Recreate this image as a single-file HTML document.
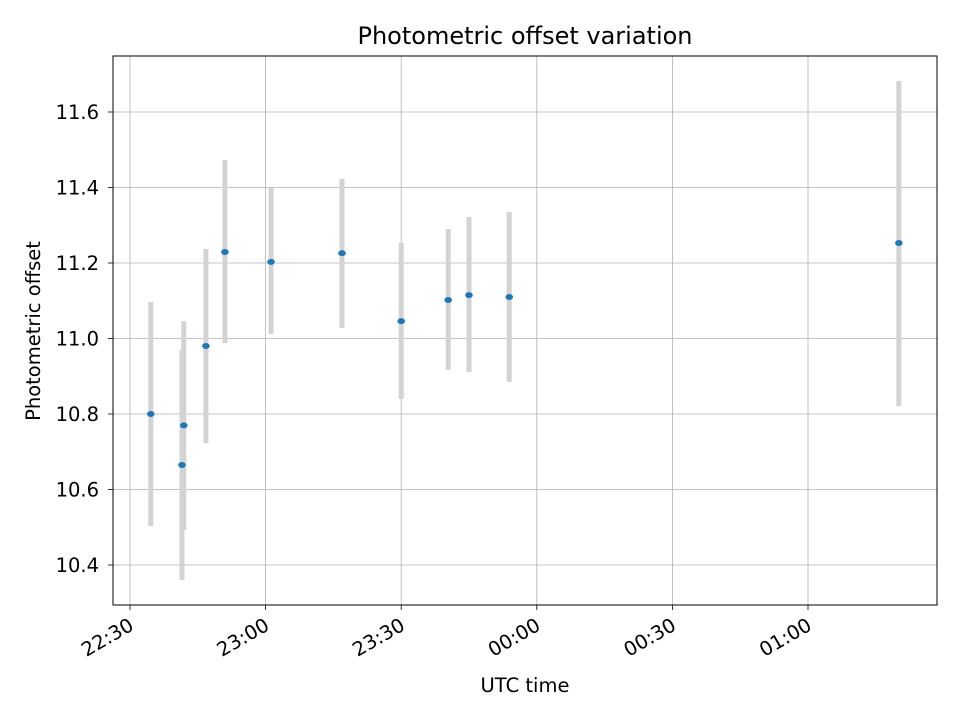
<!DOCTYPE html>
<html><head><meta charset="utf-8"><style>
body{margin:0;background:#fff;font-family:"Liberation Sans","DejaVu Sans",sans-serif;}
svg text{font-family:"DejaVu Sans","Liberation Sans",sans-serif;}
</style></head><body>
<svg id="chart" width="960" height="720" xmlns="http://www.w3.org/2000/svg"></svg>
<script>
const times = ["22:34.6","22:41.5","22:41.9","22:46.8","22:51.0","23:01.2","23:16.9","23:30.0","23:40.4","23:45.0","23:53.9","01:20.1"];
const offsets = [10.80,10.665,10.77,10.98,11.229,11.203,11.226,11.046,11.102,11.115,11.11,11.253];
const errLow = [10.503,10.36,10.493,10.723,10.988,11.012,11.028,10.84,10.917,10.911,10.885,10.821];
const errHigh = [11.097,10.97,11.046,11.237,11.473,11.399,11.423,11.253,11.29,11.322,11.335,11.682];
const yTicks = [10.4,10.6,10.8,11.0,11.2,11.4,11.6];
const xTicks = ["22:30","23:00","23:30","00:00","00:30","01:00"];

const NS="http://www.w3.org/2000/svg";
const svg=document.getElementById('chart');
const L=113,R=937,T=56,B=605;
const FS=19.5;
function toMin(s){const [h,m]=s.split(':');let hh=+h;if(hh<12)hh+=24;return (hh-22)*60+(+m)-30;}
const xS=m=>130+m*(135.6/30);
const yS=v=>112+(11.6-v)*377.5;
function el(tag,attrs,name,inter){const e=document.createElementNS(NS,tag);for(const k in attrs)e.setAttribute(k,attrs[k]);


svg.appendChild(e);return e;}
xTicks.forEach(t=>{const x=xS(toMin(t));
el('line',{x1:x,x2:x,y1:T,y2:B,stroke:'#b0b0b0','stroke-width':0.8},'x-grid-line');
el('line',{x1:x,x2:x,y1:B,y2:B+5,stroke:'#000','stroke-width':0.8},'x-tick');
const ax=x+5, ay=B+24;
const tx=el('text',{x:ax,y:ay,'font-size':FS,'text-anchor':'end',transform:`rotate(-30 ${ax} ${ay})`},'x-tick-label');tx.textContent=t;});
yTicks.forEach(v=>{const y=yS(v);
el('line',{x1:L,x2:R,y1:y,y2:y,stroke:'#b0b0b0','stroke-width':0.8},'y-grid-line');
el('line',{x1:L-5,x2:L,y1:y,y2:y,stroke:'#000','stroke-width':0.8},'y-tick');
const tx=el('text',{x:99,y:y+7,'font-size':FS,'text-anchor':'end'},'y-tick-label');tx.textContent=v.toFixed(1);});
times.forEach((t,i)=>{const x=xS(toMin(t));
el('line',{x1:x,x2:x,y1:yS(errLow[i]),y2:yS(errHigh[i]),stroke:'#d3d3d3','stroke-width':5},'error-bar');});
times.forEach((t,i)=>{const x=xS(toMin(t));
el('ellipse',{cx:x,cy:yS(offsets[i]),rx:3.8,ry:3,fill:'#1f77b4'},'data-point');});
el('rect',{x:L,y:T,width:R-L,height:B-T,fill:'none',stroke:'#000','stroke-width':1},'plot-frame');
let t=el('text',{x:525,y:44,'font-size':24,'text-anchor':'middle'},'chart-title');t.textContent='Photometric offset variation';
t=el('text',{x:525,y:692,'font-size':FS,'text-anchor':'middle'},'x-axis-title');t.textContent='UTC time';
t=el('text',{x:40,y:331,'font-size':FS,'text-anchor':'middle',transform:'rotate(-90 40 331)'},'y-axis-title');t.textContent='Photometric offset';
</script>
</body></html>
